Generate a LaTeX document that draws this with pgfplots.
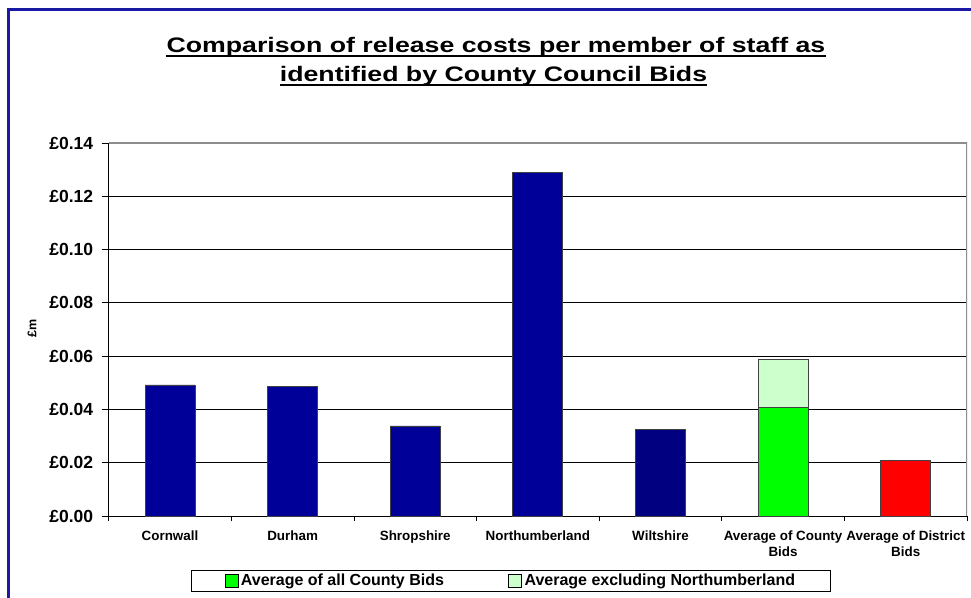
\documentclass[border=0pt]{standalone}
\usepackage{fontspec}
\setmainfont{Liberation Sans}
\usepackage{graphicx}
\usepackage{pgfplots}
\pgfplotsset{compat=1.18}
\definecolor{navyA}{RGB}{0,0,153}
\definecolor{navyB}{RGB}{0,0,128}
\definecolor{lightg}{RGB}{204,255,204}
\definecolor{frameblue}{RGB}{25,25,165}
\begin{document}
\begin{tikzpicture}
\useasboundingbox (0pt,0pt) rectangle (971pt,597pt);
\clip (0pt,0pt) rectangle (971pt,597pt);
\fill[white] (0pt,0pt) rectangle (971pt,597pt);
\draw[frameblue, line width=2.5pt] (8.5pt,-50pt) -- (8.5pt,587.5pt) -- (1050pt,587.5pt);
% title
\node[anchor=base, inner sep=0pt, font=\fontsize{20}{24}\selectfont\bfseries] (t1) at (496pt,544.7pt)
  {\scalebox{1.335}[1.05]{Comparison of release costs per member of staff as}};
\node[anchor=base, inner sep=0pt, font=\fontsize{20}{24}\selectfont\bfseries] (t2) at (493.5pt,515.3pt)
  {\scalebox{1.335}[1.05]{identified by County Council Bids}};
\draw[line width=2.2pt] ([yshift=-3.6pt]t1.base west) -- ([yshift=-3.6pt]t1.base east);
\draw[line width=2.2pt] ([yshift=-3.6pt]t2.base west) -- ([yshift=-3.6pt]t2.base east);
\begin{axis}[
  at={(108.7pt,81pt)}, anchor=south west,
  scale only axis, width=858.3pt, height=373pt,
  xmin=-0.5, xmax=6.5, ymin=0, ymax=0.14,
  axis x line*=bottom, axis y line*=left,
  axis line style={black, line width=1pt},
  tick align=outside,
  ytick={0,0.02,0.04,0.06,0.08,0.10,0.12,0.14},
  major tick length=7pt, minor tick length=5pt,
  tick style={black, line width=0.8pt},
  /pgf/number format/assume math mode=true,
  yticklabel={£\pgfmathprintnumber[fixed,fixed zerofill,precision=2]{\tick}},
  yticklabel style={font=\bfseries\fontsize{17.5}{17.5}\selectfont, xshift=-5pt},
  xtick={0,1,2,3,4,5,6},
  major x tick style={draw=none},
  minor xtick={-0.5,0.5,1.5,2.5,3.5,4.5,5.5,6.5},
  xticklabels={Cornwall, Durham, Shropshire, Northumberland, Wiltshire, {Average of County\\Bids}, {Average of District\\Bids}},
  xticklabel style={align=center, font=\bfseries\fontsize{13.4}{16}\selectfont, yshift=-4.5pt},
  ymajorgrids, major grid style={black, line width=0.8pt},
  ylabel={£m},
  ylabel style={at={(axis description cs:-0.0894,0.504)}, anchor=center, font=\bfseries\fontsize{12.5}{13}\selectfont},
  ybar, bar width=50pt, bar shift=0pt,
  legend columns=2,
  legend style={at={(rel axis cs:0.469,-0.173)}, anchor=center, draw=black, line width=0.8pt,
    inner xsep=33pt, inner ysep=1.5pt,
    font=\bfseries\fontsize{16}{17}\selectfont,
    nodes={inner sep=2.5pt, anchor=west},
    /tikz/every even column/.append style={column sep=62pt}},
  legend image code/.code={\draw[#1, draw=black, line width=0.6pt] (0pt,-6.5pt) rectangle (13pt,6.5pt);},
]
\addplot[fill=navyA, draw=black!75, line width=0.8pt, forget plot] coordinates {(0,0.0492) (1,0.0485) (2,0.0338) (3,0.1290)};
\addplot[fill=navyB, draw=black!75, line width=0.8pt, forget plot] coordinates {(4,0.0326)};
\addplot[fill=lightg, draw=black!75, line width=0.8pt, forget plot] coordinates {(5,0.0588)};
\addplot[fill=green, draw=black!75, line width=0.8pt, forget plot] coordinates {(5,0.0409)};
\addplot[fill=red, draw=black!75, line width=0.8pt, forget plot] coordinates {(6,0.0207)};
\addlegendimage{fill=green}
\addlegendentry{Average of all County Bids}
\addlegendimage{fill=lightg}
\addlegendentry{Average excluding Northumberland}
\draw[black!45, line width=1.2pt] (rel axis cs:0,1) -- (rel axis cs:1,1) -- (rel axis cs:1,0);
\end{axis}
\end{tikzpicture}
\end{document}
